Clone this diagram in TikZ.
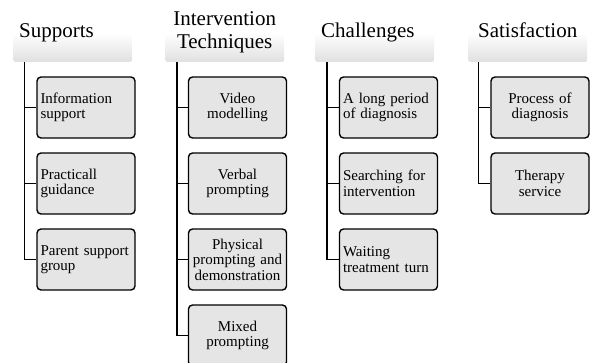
\documentclass[tikz,border=0pt]{standalone}
\usepackage{fontspec}
\setmainfont{Liberation Serif}
\usepackage{tikz}

\begin{document}
\begin{tikzpicture}[x=1pt, y=-1pt,
    head_node/.style={anchor=south west, minimum width=119pt, minimum height=58pt, inner sep=6pt, text width=107pt,
        rounded corners=2pt, top color=white, bottom color=gray!24, middle color=white, font=\fontsize{21}{23}\selectfont},
    item_node/.style={draw, line width=1.4pt, rounded corners=4pt, fill=gray!20, minimum width=98pt, minimum height=61pt,
        text width=91pt, inner sep=3.5pt, font=\fontsize{15}{15.5}\selectfont},
    link/.style={line width=1.6pt}]
    \useasboundingbox (0,0) rectangle (592,362);
    \clip (0,0) rectangle (592,362);

    \node[head_node, align=left] (sup) at (13, 62) {Supports\strut};
    \node[head_node, align=center] (tech) at (165, 62) {Intervention\strut\\Techniques\strut};
    \node[head_node, align=left] (chal) at (315, 62) {Challenges\strut};
    \node[head_node, align=center] (sat) at (468, 62) {Satisfaction\strut};

    \node[item_node, align=left] (sup1) at (86, 107.5) {Information\\support};
    \node[item_node, align=left] (sup2) at (86, 183.5) {Practicall\\guidance};
    \node[item_node, align=left] (sup3) at (86, 259.5) {Parent support\\group};

    \node[item_node, align=center] (tech1) at (237.5, 107.5) {Video\\modelling};
    \node[item_node, align=center] (tech2) at (237.5, 183.5) {Verbal\\prompting};
    \node[item_node, align=center] (tech3) at (237.5, 259.5) {Physical\\prompting and\\demonstration};
    \node[item_node, align=center] (tech4) at (237.5, 335.5) {Mixed\\prompting};

    \node[item_node, align=left] (chal1) at (388.5, 107.5) {A long period\\of diagnosis};
    \node[item_node, align=left] (chal2) at (388.5, 183.5) {Searching for\\intervention};
    \node[item_node, align=left] (chal3) at (388.5, 259.5) {Waiting\\treatment turn};

    \node[item_node, align=center] (sat1) at (540, 107.5) {Process of\\diagnosis};
    \node[item_node, align=center] (sat2) at (540, 183.5) {Therapy\\service};

    \draw[link] ([xshift=-12pt]sup1.west |- sup.south) |- (sup3.west);
    \draw[link] ([xshift=-12pt]sup1.west) -- (sup1.west);
    \draw[link] ([xshift=-12pt]sup2.west) -- (sup2.west);

    \draw[link] ([xshift=-11pt]tech1.west |- tech.south) |- (tech4.west);
    \draw[link] ([xshift=-11pt]tech1.west) -- (tech1.west);
    \draw[link] ([xshift=-11pt]tech2.west) -- (tech2.west);
    \draw[link] ([xshift=-11pt]tech3.west) -- (tech3.west);

    \draw[link] ([xshift=-12pt]chal1.west |- chal.south) |- (chal3.west);
    \draw[link] ([xshift=-12pt]chal1.west) -- (chal1.west);
    \draw[link] ([xshift=-12pt]chal2.west) -- (chal2.west);

    \draw[link] ([xshift=-12pt]sat1.west |- sat.south) |- (sat2.west);
    \draw[link] ([xshift=-12pt]sat1.west) -- (sat1.west);
\end{tikzpicture}
\end{document}
